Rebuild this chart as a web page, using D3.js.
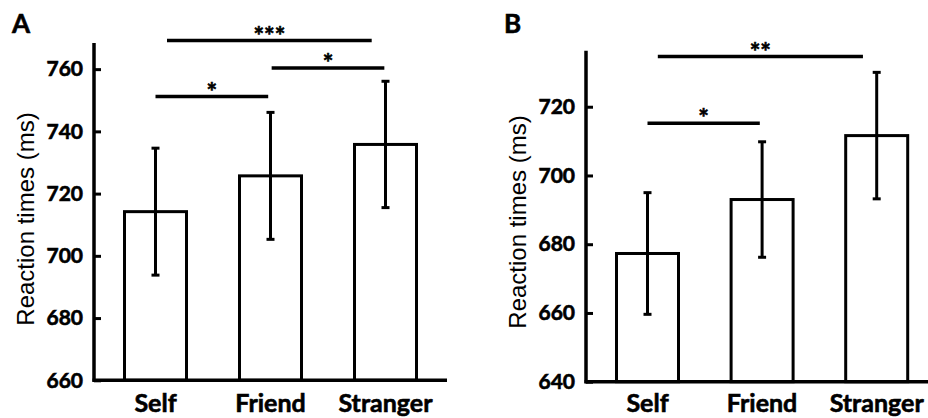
<!DOCTYPE html>
<html>
<head>
<meta charset="utf-8">
<script src="https://cdn.jsdelivr.net/npm/d3@7"></script>
<style>
  body { margin: 0; background: #fff; }
  svg { display: block; }
  .heavy { stroke: #000; stroke-width: 0.6px; paint-order: stroke; }
</style>
</head>
<body>
<svg id="chart" width="928" height="418"></svg>
<script>
// chart values
const categories = ["Self", "Friend", "Stranger"];

const meansA = [714.2, 725.7, 735.8];
const errA = [20.4, 20.4, 20.3];
const ticksA = [660, 680, 700, 720, 740, 760];
// significance brackets: start/end as category index, height in ms
const sigA = [
    { from: 0.1, to: 1.88, y: 769.2, label: "***" },
    { from: 1.01, to: 1.99, y: 760.4, label: "*" },
    { from: 0.0, to: 0.98, y: 751.2, label: "*" }
];

const meansB = [677.3, 693.0, 711.6];
const errB = [17.7, 16.8, 18.4];
const ticksB = [640, 660, 680, 700, 720];
const sigB = [
    { from: 0.09, to: 1.88, y: 734.6, label: "**" },
    { from: 0.0, to: 0.98, y: 715.2, label: "*" }
];

const svg = d3.select("#chart");

function drawPanel(opts) {
    const g = svg.append("g");

    const yScale = d3.scaleLinear()
        .domain(opts.yDomain)
        .range([opts.bottom, opts.top]);

    // category index -> pixel
    const xScale = d3.scaleLinear()
        .domain([0, 2])
        .range([opts.left + opts.offset, opts.left + opts.offset + 2 * opts.step]);

    const barW = 62;

    // bars
    g.selectAll("rect.bar")
        .data(opts.means)
        .join("rect")
        .attr("class", "bar")
        .attr("x", (d, i) => xScale(i) - barW / 2)
        .attr("y", d => yScale(d))
        .attr("width", barW)
        .attr("height", d => yScale(opts.yDomain[0]) - yScale(d))
        .attr("fill", "#fff")
        .attr("stroke", "#000")
        .attr("stroke-width", 3);

    // error bars
    const eb = g.selectAll("g.err")
        .data(opts.means)
        .join("g")
        .attr("class", "err");
    eb.append("line")
        .attr("x1", (d, i) => xScale(i))
        .attr("x2", (d, i) => xScale(i))
        .attr("y1", (d, i) => yScale(d + opts.err[i]))
        .attr("y2", (d, i) => yScale(d - opts.err[i]))
        .attr("stroke", "#000")
        .attr("stroke-width", 3);
    [1, -1].forEach(s => {
        eb.append("line")
            .attr("x1", (d, i) => xScale(i) - 4)
            .attr("x2", (d, i) => xScale(i) + 4)
            .attr("y1", (d, i) => yScale(d + s * opts.err[i]))
            .attr("y2", (d, i) => yScale(d + s * opts.err[i]))
            .attr("stroke", "#000")
            .attr("stroke-width", 3);
    });

    // y axis, ticks pointing inward
    const yAxis = d3.axisLeft(yScale)
        .tickValues(opts.ticks)
        .tickSize(-7)
        .tickPadding(11)
        .tickSizeOuter(0);
    const ya = g.append("g")
        .attr("transform", `translate(${opts.left},0)`)
        .call(yAxis);
    ya.select(".domain").remove();
    ya.selectAll(".tick line").attr("stroke", "#000").attr("stroke-width", 3);
    ya.selectAll(".tick text")
        .attr("class", "heavy")
        .attr("font-family", "Lato")
        .attr("font-weight", "bold")
        .attr("font-size", 21)
        .attr("fill", "#000");

    // axis lines
    g.append("line")
        .attr("x1", opts.left).attr("x2", opts.left)
        .attr("y1", opts.top).attr("y2", opts.bottom + 1.5)
        .attr("stroke", "#000").attr("stroke-width", 3.5);
    g.append("line")
        .attr("x1", opts.left - 1.5).attr("x2", opts.right)
        .attr("y1", opts.bottom).attr("y2", opts.bottom)
        .attr("stroke", "#000").attr("stroke-width", 3.5);

    // category labels
    g.selectAll("text.cat")
        .data(categories)
        .join("text")
        .attr("class", "cat heavy")
        .attr("x", (d, i) => xScale(i))
        .attr("y", 412)
        .attr("text-anchor", "middle")
        .attr("font-family", "Lato")
        .attr("font-weight", "bold")
        .attr("font-size", 25)
        .text(d => d);

    // significance brackets
    g.selectAll("line.sig")
        .data(opts.sig)
        .join("line")
        .attr("class", "sig")
        .attr("x1", d => xScale(d.from))
        .attr("x2", d => xScale(d.to))
        .attr("y1", d => yScale(d.y))
        .attr("y2", d => yScale(d.y))
        .attr("stroke", "#000")
        .attr("stroke-width", 3.5);
    g.selectAll("text.sig")
        .data(opts.sig)
        .join("text")
        .attr("class", "sig heavy")
        .attr("x", d => xScale((d.from + d.to) / 2))
        .attr("y", d => yScale(d.y) + 4)
        .attr("text-anchor", "middle")
        .attr("font-family", "Lato")
        .attr("font-weight", "bold")
        .attr("font-size", 25)
        .text(d => d.label);

    // y axis title
    g.append("text")
        .attr("transform", `translate(${opts.labelX},${opts.labelY}) rotate(-90)`)
        .attr("text-anchor", "middle")
        .attr("font-family", "Liberation Sans")
        .attr("font-size", 24)
        .text("Reaction times (ms)");

    // panel letter
    g.append("text")
        .attr("class", "heavy")
        .attr("x", opts.letterX)
        .attr("y", 33)
        .attr("font-family", "Lato")
        .attr("font-weight", "bold")
        .attr("font-size", 26)
        .text(opts.letter);
}

drawPanel({
    letter: "A", letterX: 12,
    means: meansA, err: errA, ticks: ticksA, sig: sigA,
    yDomain: [660, 768.4], top: 43, bottom: 380.3,
    left: 94, right: 447, offset: 61.5, step: 115,
    labelX: 34, labelY: 219
});

drawPanel({
    letter: "B", letterX: 504,
    means: meansB, err: errB, ticks: ticksB, sig: sigB,
    yDomain: [640, 736.3], top: 50.7, bottom: 381.7,
    left: 586, right: 928, offset: 61.5, step: 114.6,
    labelX: 526, labelY: 222
});
</script>
</body>
</html>
